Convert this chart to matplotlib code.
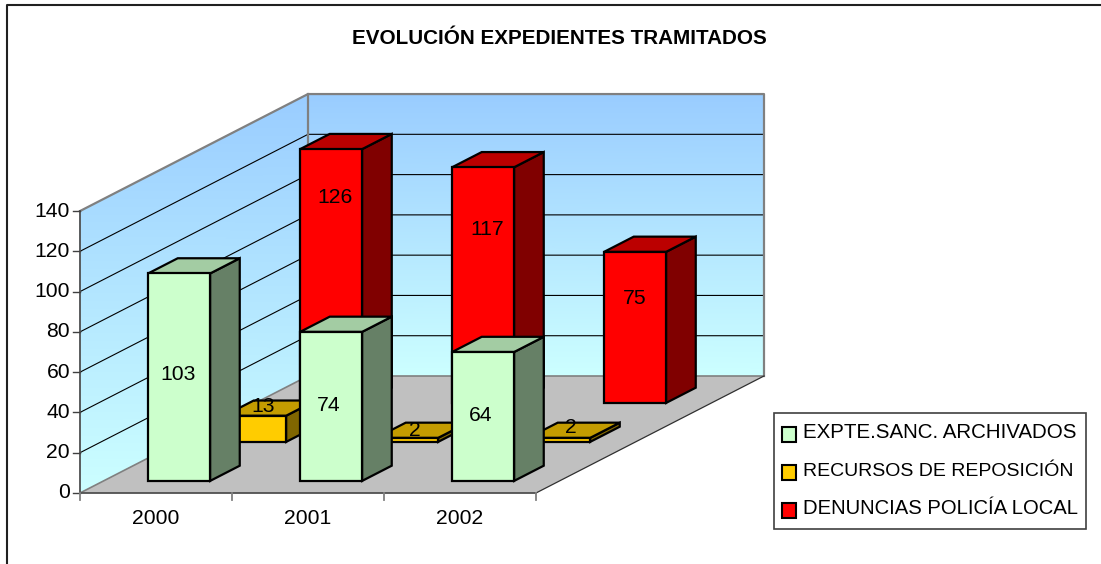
import numpy as np
import matplotlib
matplotlib.use('Agg')
from matplotlib import pyplot as plt
from matplotlib.colors import LinearSegmentedColormap
from matplotlib.patches import Polygon, Rectangle

plt.rcParams['font.family'] = ['Liberation Sans', 'DejaVu Sans']

years = ['2000', '2001', '2002']
series_names = ['EXPTE.SANC. ARCHIVADOS', 'RECURSOS DE REPOSICIÓN', 'DENUNCIAS POLICÍA LOCAL']
archivados = [103, 74, 64]
recursos = [13, 2, 2]
denuncias = [126, 117, 75]
series = [archivados, recursos, denuncias]
value_ticks = [0, 20, 40, 60, 80, 100, 120, 140]

front_colors = ['#CCFFCC', '#FFCC00', '#FF0000']
top_colors = ['#A3CCA3', '#C49C00', '#BB0000']
side_colors = ['#668066', '#806600', '#800000']

# label nudges in pixels, excel moves them around in the 3d view
label_dx = [[-1, -2, -2], [8, 8, 12], [4, 4, 0]]
label_dy = [[-5, -3, -3], [-24, -11, -14], [-81, -58, -31]]
legend_sizes = [14.8, 14.0, 14.6]

# oblique projection used by the excel 3d view
X0, Y0 = 80, 493
CAT_W = 152
DEPTH_X, DEPTH_Y = 76, -39
UNIT_Y = 2.014


def project(cat, value, depth):
    x = X0 + CAT_W * np.asarray(cat, dtype=float) + DEPTH_X * np.asarray(depth, dtype=float)
    y = Y0 - UNIT_Y * np.asarray(value, dtype=float) + DEPTH_Y * np.asarray(depth, dtype=float)
    return x, y


def quad(ax, pts, color, edge='none', lw=0, z=2):
    ax.add_patch(Polygon(np.array(pts), closed=True, facecolor=color, edgecolor=edge,
                         linewidth=lw, joinstyle='miter', zorder=z))


fig = plt.figure(figsize=(11.01, 5.64), dpi=100)
ax = fig.add_axes([0, 0, 1, 1])
ax.set_xlim(0, 1101)
ax.set_ylim(564, 0)
ax.axis('off')

ncat = len(years)
nrow = len(series)
vmax = value_ticks[-1]
wall_cmap = LinearSegmentedColormap.from_list('wall', ['#CCFFFF', '#99CCFF'])

# walls, the fill runs straight up the screen on both of them
xb, yb = project(np.array([[0, ncat], [0, ncat]]), np.array([[0, 0], [vmax, vmax]]), nrow)
ax.pcolormesh(xb, yb, (yb.max() - yb) / (yb.max() - yb.min()), cmap=wall_cmap, vmin=0, vmax=1,
              shading='gouraud', zorder=1)
xl, yl = project(0, np.array([[0, 0], [vmax, vmax]]), np.array([[0, nrow], [0, nrow]]))
ax.pcolormesh(xl, yl, (yl.max() - yl) / (yl.max() - yl.min()), cmap=wall_cmap, vmin=0, vmax=1,
              shading='gouraud', zorder=1)

# floor
floor = [project(0, 0, 0), project(ncat, 0, 0), project(ncat, 0, nrow), project(0, 0, nrow)]
quad(ax, floor, '#C0C0C0', z=1.2)

# gridlines on both walls
for v in value_ticks[1:-1]:
    ax.plot(*zip(project(0, v, 0), project(0, v, nrow), project(ncat, v, nrow)),
            color='black', lw=0.8, zorder=1.5)

# wall borders
gray = '#808080'
ax.plot(*zip(project(0, vmax, 0), project(0, vmax, nrow), project(ncat, vmax, nrow),
             project(ncat, 0, nrow)), color=gray, lw=1.6, zorder=1.6)
ax.plot(*zip(project(0, vmax, nrow), project(0, 0, nrow)), color=gray, lw=1.6, zorder=1.6)
ax.plot(*zip(project(0, 0, 0), project(0, 0, nrow), project(ncat, 0, nrow)),
        color=gray, lw=1.2, zorder=1.6)
ax.plot(*zip(project(ncat, 0, 0), project(ncat, 0, nrow)), color='#303030', lw=0.9, zorder=1.6)

# value axis
ax.plot(*zip(project(0, 0, 0), project(0, vmax, 0)), color='#505050', lw=1.3, zorder=1.7)
for v in value_ticks:
    x, y = project(0, v, 0)
    ax.plot([x - 7, x], [y, y], color='#404040', lw=1.0, zorder=1.7)
    ax.text(x - 10, y - 2, str(v), ha='right', va='center_baseline', fontsize=15.2, color='black')

# category axis
ax.plot(*zip(project(0, 0, 0), project(ncat, 0, 0)), color='#505050', lw=1.3, zorder=1.7)
for c in range(ncat + 1):
    x, y = project(c, 0, 0)
    ax.plot([x, x], [y, y + 7], color=gray, lw=1.3, zorder=1.7)
for c, year in enumerate(years):
    x, y = project(c + 0.5, 0, 0)
    ax.text(x, y + 23, year, ha='center', va='center_baseline', fontsize=15.2, color='black')

# bars, back row first
bar_lo, bar_hi = 0.293, 0.701
dep_lo, dep_hi = 0.31, 0.70
for row in range(nrow - 1, -1, -1):
    z = 3 + (nrow - row)
    for c in range(ncat - 1, -1, -1):
        v = series[row][c]
        c0, c1 = c + bar_lo, c + bar_hi
        d0, d1 = row + dep_lo, row + dep_hi
        front = [project(c0, 0, d0), project(c1, 0, d0), project(c1, v, d0), project(c0, v, d0)]
        side = [project(c1, 0, d0), project(c1, 0, d1), project(c1, v, d1), project(c1, v, d0)]
        top = [project(c0, v, d0), project(c1, v, d0), project(c1, v, d1), project(c0, v, d1)]
        quad(ax, side, side_colors[row], 'black', 1.6, z)
        quad(ax, top, top_colors[row], 'black', 1.6, z)
        quad(ax, front, front_colors[row], 'black', 1.6, z)
        x, y = project((c0 + c1) / 2, v / 2, d0)
        ax.text(x + label_dx[row][c], y + label_dy[row][c], str(v), ha='center',
                va='center_baseline', fontsize=15.2, color='black', zorder=20)

# title and outer frame
ax.text(559, 36, 'EVOLUCIÓN EXPEDIENTES TRAMITADOS', ha='center', va='center_baseline',
        fontsize=14.9, fontweight='bold', color='black')
ax.plot([7, 7, 1101], [564, 5, 5], color='#202020', lw=1.5, zorder=0.5)

# legend
ax.add_patch(Rectangle((774, 413), 312, 116, facecolor='white', edgecolor='#404040', lw=1.2, zorder=30))
for i, name in enumerate(series_names):
    y = 431 + 38 * i
    ax.add_patch(Rectangle((782, y - 4), 14, 15, facecolor=front_colors[i], edgecolor='black',
                           lw=1.5, zorder=31))
    ax.text(803, y, name, ha='left', va='center_baseline', fontsize=legend_sizes[i], color='black', zorder=31)

fig.savefig('out.png', dpi=100)
